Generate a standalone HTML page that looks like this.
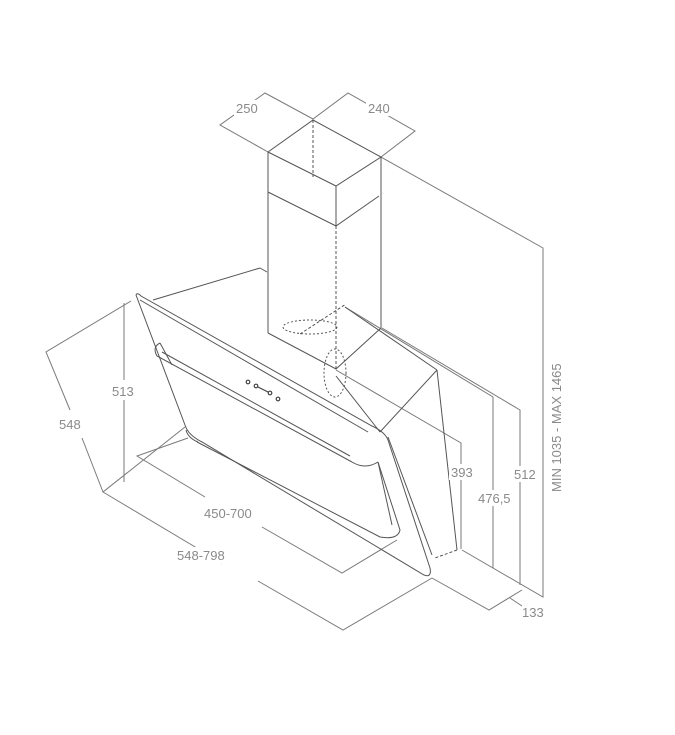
<!DOCTYPE html>
<html><head><meta charset="utf-8"><style>
html,body{margin:0;padding:0;background:#fff}
svg{display:block}
text{font-family:"Liberation Sans",sans-serif;font-size:13px;fill:#8a8a8a}
</style></head><body>
<svg width="675" height="735" viewBox="0 0 675 735" xmlns="http://www.w3.org/2000/svg">
<g fill="none" stroke="#7a7a7a" stroke-width="1">
<polyline points="268,152 220,125 265,93 313,119 348,93 415,131 381,157"/>
<polyline points="381,157 543,248 543,597 462,550"/>
<polyline points="382,328 520,410 520,585"/>
<polyline points="345,307 493,397 493,568"/>
<polyline points="336,370 461,443 461,549"/>
<polyline points="432,578 489,610 522,590"/>
<line x1="510" y1="598" x2="522" y2="606"/>
<polyline points="185,427 103,492 222,563"/>
<polyline points="258,581 343,630 432,578"/>
<polyline points="188,438 137,456 205,497"/>
<polyline points="262,527 342,573 397,540"/>
<polyline points="131,301 46,352 70,410"/>
<line x1="82" y1="438" x2="103" y2="492"/>
<line x1="124" y1="303" x2="124" y2="380"/>
<line x1="124" y1="400" x2="124" y2="482"/>
</g>
<g fill="none" stroke="#555" stroke-width="1">
<polyline points="268,333 268,152 313,120 381,157 336,186 268,152"/>
<line x1="336" y1="186" x2="336" y2="226"/>
<polyline points="268,192 336,226 379,196"/>
<line x1="381" y1="157" x2="381" y2="328"/>
<line x1="313" y1="120" x2="313" y2="177" stroke-dasharray="3,2"/>
<line x1="336" y1="226" x2="336" y2="369" stroke-dasharray="3,2"/>
<line x1="268" y1="195" x2="268" y2="333" stroke-dasharray="4,2"/>
<polyline points="268,333 336,369 381,328"/>
<polyline points="260,268 153,300"/>
<line x1="260" y1="268" x2="267" y2="272"/>
<line x1="345" y1="307" x2="437" y2="370"/>
<line x1="336" y1="376" x2="380" y2="432"/>
<path d="M136,295 L185,425"/>
<path d="M136,295 Q137,292 141,296 L372,426 Q385,432 388,440 L430,568 Q432,578 424,575 L202,442 Q188,435 185,425"/>
<path d="M140,300 L368,432"/>
<path d="M160,343 Q152,347 157,356 L352,462"/>
<path d="M160,343 L172,365"/>
<path d="M162,352 L350,456"/>
<path d="M197,442 L380,537 Q398,540 400,530 L378,462"/>
<path d="M186,430 Q188,438 198,442" />
<line x1="378" y1="462" x2="392" y2="525"/>
<path d="M352,462 Q365,470 378,462"/>
<polyline points="437,370 457,550"/>
<line x1="437" y1="370" x2="380" y2="432"/>
<line x1="388" y1="437" x2="432" y2="555"/>
<line x1="457" y1="550" x2="435" y2="558" stroke-dasharray="3,2"/>
<ellipse cx="310" cy="327" rx="27" ry="7" stroke-dasharray="2,2"/>
<line x1="300" y1="334" x2="346" y2="304" stroke-dasharray="3,2"/>
<ellipse cx="335" cy="373" rx="11" ry="24" stroke-dasharray="2,2"/>
</g>
<g fill="none" stroke="#444" stroke-width="1.2">
<circle cx="248" cy="382" r="1.8"/><circle cx="256" cy="386" r="1.8"/>
<line x1="258" y1="387" x2="268" y2="392"/>
<circle cx="270" cy="393" r="1.8"/><circle cx="278" cy="399" r="1.8"/>
</g>
<g fill="#fff">
<rect x="234" y="100" width="30" height="16"/>
<rect x="366" y="100" width="30" height="16"/>
<rect x="110" y="383" width="26" height="16"/>
<rect x="57" y="416" width="26" height="16"/>
<rect x="202" y="505" width="54" height="16"/>
<rect x="175" y="547" width="54" height="16"/>
<rect x="449" y="464" width="26" height="16"/>
<rect x="476" y="490" width="36" height="16"/>
<rect x="512" y="466" width="26" height="16"/>
<rect x="549" y="362" width="16" height="132"/>
</g>
<text x="236" y="113">250</text>
<text x="368" y="113">240</text>
<text x="112" y="396">513</text>
<text x="59" y="429">548</text>
<text x="204" y="518">450-700</text>
<text x="177" y="560">548-798</text>
<text x="451" y="477">393</text>
<text x="478" y="503">476,5</text>
<text x="514" y="479">512</text>
<text x="522" y="617">133</text>
<text transform="translate(561,492) rotate(-90)">MIN 1035 - MAX 1465</text>
</svg>
</body></html>
